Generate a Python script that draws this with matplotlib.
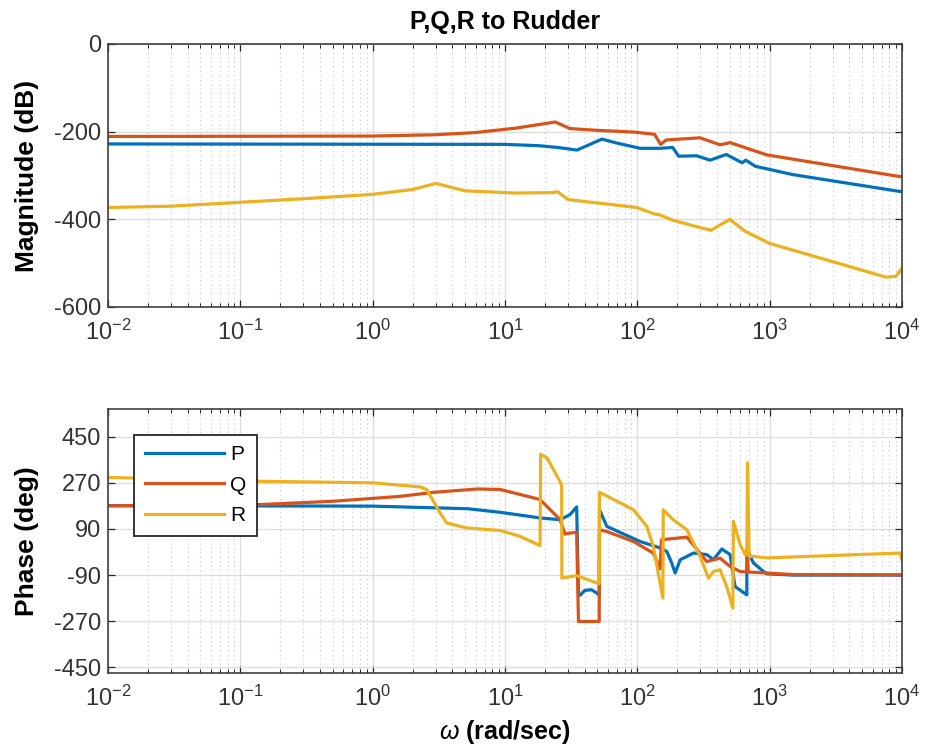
import numpy as np
import matplotlib

matplotlib.use("Agg")
import matplotlib.pyplot as plt
from matplotlib.ticker import FixedLocator, LogLocator, NullFormatter

plt.rcParams["font.family"] = ["Liberation Sans", "DejaVu Sans"]
plt.rcParams["axes.unicode_minus"] = False
plt.rcParams["mathtext.fontset"] = "custom"
plt.rcParams["mathtext.rm"] = "Liberation Sans"
plt.rcParams["mathtext.it"] = "Liberation Sans:italic"

# ---- magnitude (dB) ----
mag_w_P = [0.01, 10, 18, 25, 35, 54, 70, 105, 150, 185, 205, 280, 355, 470, 620, 660, 780, 1500, 9000, 10000]
mag_P = [-228, -229, -232, -236, -242, -217, -226, -238, -238, -236, -256, -255, -265, -252, -271, -265, -279, -298, -335, -337]

mag_w_Q = [0.01, 1, 3, 6, 12, 24, 31, 50, 95, 135, 150, 165, 298, 422, 502, 952, 9000, 10000]
mag_Q = [-211, -210, -207, -202, -192, -178, -193, -197, -201, -206, -229, -219, -214, -230, -225, -253, -301, -303]

mag_w_R = [0.01, 0.03, 0.3, 1, 2, 3, 5, 12, 23, 25, 30, 99, 135, 145, 185, 300, 360, 500, 650, 1000, 7600, 9000, 10000]
mag_R = [-373, -370, -353, -343, -332, -318, -335, -340, -339, -337, -355, -373, -388, -389, -402, -419, -425, -400, -427, -455, -532, -530, -512]

# ---- phase (deg) ----
ph_w_P = [0.01, 1, 5.2, 9.2, 18.4, 26.1, 31, 34.8, 35.9, 37, 40, 45, 49.4, 51.5, 51.8, 58.8, 105, 149,
          167, 182, 193, 211, 266, 335, 376, 435, 502, 548, 672, 673, 755, 898, 952, 1500, 10000]
ph_P = [181, 179, 169, 155, 133, 126, 146, 176, -170, -168, -150, -147, -160, -168, 165, 100, 41, 16,
        2, -43, -82, -30, -4, -10, -30, 12, -10, -135, -167, 10, -43, -76, -85, -90, -90]

ph_w_Q = [0.01, 0.14, 0.5, 1.6, 2.9, 6.2, 9.2, 18.4, 26.1, 28.4, 31, 34.8, 35.9, 51.5, 51.8, 58.8, 93.5, 132,
          149, 152, 237, 335, 422, 502, 598, 672, 680, 690, 952, 1500, 9680, 10000]
ph_Q = [180, 185, 198, 217, 233, 246, 244, 205, 126, 70, 74, 77, -271, -271, 87, 80, 41, -4,
        -65, 48, 58, -37, -24, -56, -76, -78, -15, -78, -82, -88, -89, -90]

ph_w_R = [0.01, 0.14, 1, 2.28, 2.56, 3.23, 3.63, 5.14, 9.2, 13, 18.4, 18.6, 20.7, 23.2, 26.8, 26.9, 34.8, 51.5,
          51.8, 93.5, 118, 132, 156, 157, 187, 237, 298, 345, 376, 422, 474, 527, 532, 598, 653, 672, 680,
          700, 755, 952, 9680, 10000]
ph_R = [291, 276, 270, 254, 244, 153, 113, 94, 84, 61, 25, 381, 368, 322, 263, -102, -92, -124,
        233, 165, 100, 22, -180, 165, 126, 87, -17, -102, -76, -69, -135, -219, 120, 29, -10, -10, 348,
        -17, -17, -23, -4, -31]

names = ["P", "Q", "R"]
colors = ["#0072BD", "#D95319", "#EDB120"]
decades = [1e-2, 1e-1, 1e0, 1e1, 1e2, 1e3, 1e4]
mag_ticks = [0, -200, -400, -600]
ph_ticks = [-450, -270, -90, 90, 270, 450]

W, H = 925, 755
fig = plt.figure(figsize=(W / 100, H / 100), dpi=100)


def style(ax):
    ax.set_xscale("log")
    ax.set_xlim(1e-2, 1e4)
    ax.xaxis.set_major_locator(FixedLocator(decades))
    ax.xaxis.set_minor_locator(LogLocator(base=10, subs=np.arange(2, 10), numticks=20))
    ax.xaxis.set_minor_formatter(NullFormatter())
    ax.grid(True, which="major", color="#dcdcdc", lw=0.9)
    ax.grid(True, which="minor", axis="x", color="#c8c8c8", lw=0.8, ls=(0, (1, 3)))
    ax.set_axisbelow(True)
    ax.tick_params(which="both", direction="in", top=True, right=True, colors="#262626",
                   labelsize=17, labelcolor="#333333")
    ax.tick_params(which="major", length=5, width=0.9)
    ax.tick_params(axis="x", which="major", pad=9)
    ax.tick_params(axis="y", which="major", pad=5)
    ax.tick_params(which="minor", length=3, width=0.7)
    for s in ax.spines.values():
        s.set_color("#404040")
        s.set_linewidth(1.2)


def add_axes(x0, y0, x1, y1):
    return fig.add_axes([x0 / W, 1 - y1 / H, (x1 - x0) / W, (y1 - y0) / H])


ax1 = add_axes(108, 44, 902, 307)
style(ax1)
for w, m, c in zip([mag_w_P, mag_w_Q, mag_w_R], [mag_P, mag_Q, mag_R], colors):
    ax1.plot(w, m, color=c, lw=2.3)
ax1.set_ylim(-600, 0)
ax1.set_yticks(mag_ticks)
ax1.set_ylabel("Magnitude (dB)", fontsize=19, fontweight="bold")
ax1.yaxis.set_label_coords(-0.087, 0.5)
ax1.set_title("P,Q,R to Rudder", fontsize=18, fontweight="bold", pad=11)

ax2 = add_axes(108, 409, 902, 673)
style(ax2)
for w, p, c, n in zip([ph_w_P, ph_w_Q, ph_w_R], [ph_P, ph_Q, ph_R], colors, names):
    ax2.plot(w, p, color=c, lw=2.3, label=n)
ax2.set_ylim(-472, 558)
ax2.set_yticks(ph_ticks)
ax2.set_ylabel("Phase (deg)", fontsize=19, fontweight="bold")
ax2.yaxis.set_label_coords(-0.087, 0.5)
ax2.set_xlabel(r"$\omega$ (rad/sec)", fontsize=18, fontweight="bold", labelpad=5)

leg = ax2.legend(loc="upper left", bbox_to_anchor=(0.033, 0.902), borderaxespad=0,
                 fontsize=15, handlelength=3.8, handletextpad=0.3, labelspacing=0.55,
                 borderpad=0.5, fancybox=False, framealpha=1)
leg.get_frame().set_edgecolor("#262626")
leg.get_frame().set_linewidth(1.3)

fig.savefig("out.png", dpi=100, facecolor="white")
